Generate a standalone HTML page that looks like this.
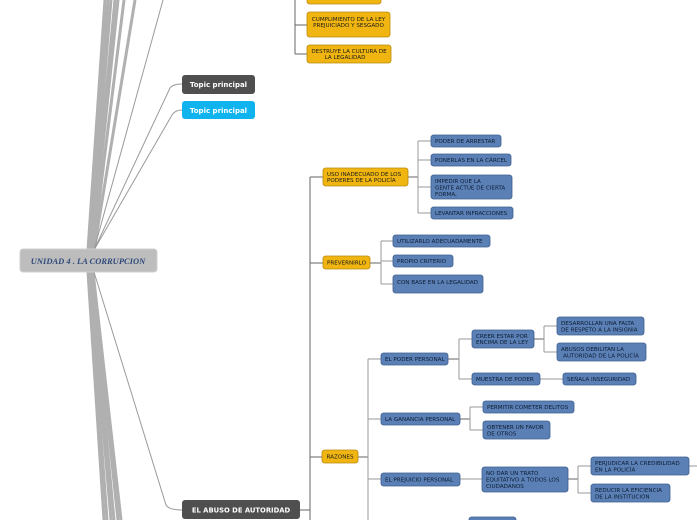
<!DOCTYPE html>
<html><head><meta charset="utf-8"><style>
html,body{margin:0;padding:0;background:#fff;width:697px;height:520px;overflow:hidden}
svg{display:block}
.y{fill:#f0b510;stroke:#b88a10;stroke-width:.8}
.b{fill:#5a80b6;stroke:#3e5f8f;stroke-width:.8}
.t{font-family:"DejaVu Sans","Liberation Sans",sans-serif;font-size:5.6px;fill:#1a1a1a}
.tb{font-family:"DejaVu Sans","Liberation Sans",sans-serif;font-size:5.6px;fill:#0e1c33}
.c{fill:none;stroke:#9a9a9a;stroke-width:1}
.cd{fill:none;stroke:#666;stroke-width:1}
.th{fill:none;stroke:#b0b0b0;stroke-width:3}
</style></head><body>
<svg width="697" height="520" viewBox="0 0 697 520" xmlns="http://www.w3.org/2000/svg">
<!-- root thick lines -->
<g class="th">
<path d="M88 250 L105 0"/><path d="M89 250 L108 0"/><path d="M90 250 L111 0"/><path d="M91 250 L115 0"/><path d="M92 250 L118 0"/><path d="M93 250 L124 0"/><path d="M94 250 L135 0"/>
<path d="M88 272 L104 520"/><path d="M89 272 L107 520"/><path d="M90 272 L111 520"/><path d="M91 272 L114 520"/><path d="M92 272 L118 520"/><path d="M93 272 L121 520"/>
</g>
<g class="c" stroke="#aaa">
<path d="M94 250 L163 0"/>
<path d="M94 250 L170 88 Q173 84 182 84"/>
<path d="M94 250 L172 115 Q175 110 182 110"/>
<path d="M94 272 L166 505 Q169 510 182 510"/>
</g>
<!-- top yellow branch -->
<path class="cd" d="M295 0 L295 54 M295 25 L307 25 M295 54 L307 54"/>
<!-- ABUSO vertical -->
<path class="cd" d="M300 510 L310 510 M310 177 L310 520 M310 177 L323 177 M310 263 L323 263 M310 457 L322 457"/>
<!-- uso children -->
<path class="cd" d="M408 177 L418 177"/>
<path class="c" d="M418 141 L418 213 M418 141 L431 141 M418 160 L431 160 M418 187 L431 187 M418 213 L431 213"/>
<path class="cd" d="M370 263 L381 263"/>
<path class="c" d="M381 241 L381 284 M381 241 L393 241 M381 261 L393 261 M381 284 L393 284"/>
<!-- razones -->
<path class="cd" d="M358 457 L368 457"/>
<path class="c" d="M368 359 L368 520 M368 359 L381 359 M368 419 L381 419 M368 479 L381 479"/>
<path class="cd" d="M448 359 L459 359"/>
<path class="c" d="M459 339 L459 379 M459 339 L472 339 M459 379 L472 379"/>
<path class="cd" d="M534 339 L544 339"/>
<path class="c" d="M544 326 L544 352 M544 326 L557 326 M544 352 L557 352 M540 379 L563 379"/>
<path class="cd" d="M460 419 L470 419"/>
<path class="c" d="M470 407 L470 430 M470 407 L483 407 M470 430 L483 430 M460 479 L482 479"/>
<path class="cd" d="M568 479 L578 479"/>
<path class="c" d="M578 466 L578 493 M578 466 L591 466 M578 493 L591 493 M689 466 L697 466"/>

<!-- root -->
<rect x="20" y="249" width="137" height="23" rx="3" fill="#bdbdbd" stroke="#d0d0d0"/>
<text x="88" y="264" text-anchor="middle" font-family="'Liberation Serif',serif" font-style="italic" font-weight="bold" font-size="8.5" fill="#2f4a7a">UNIDAD 4 . LA CORRUPCION</text>
<!-- main topics -->
<rect x="182" y="75" width="73" height="19" rx="3" fill="#4f4f4f"/>
<text x="218.5" y="87" text-anchor="middle" font-family="'DejaVu Sans',sans-serif" font-weight="bold" font-size="7" fill="#fff">Topic principal</text>
<rect x="182" y="101" width="73" height="18" rx="3" fill="#0fb4ee"/>
<text x="218.5" y="113" text-anchor="middle" font-family="'DejaVu Sans',sans-serif" font-weight="bold" font-size="7" fill="#fff">Topic principal</text>
<rect x="182" y="500" width="118" height="19" rx="3" fill="#4f4f4f"/>
<text x="241" y="512.5" text-anchor="middle" font-family="'DejaVu Sans',sans-serif" font-weight="bold" font-size="6.8" fill="#fff">EL ABUSO DE AUTORIDAD</text>

<!-- yellow -->
<rect class="y" x="307" y="-6" width="74" height="10" rx="2.5"/>
<rect class="y" x="307" y="12" width="83" height="25" rx="2.5"/>
<text class="t" x="348.5" y="21" text-anchor="middle">CUMPLIMIENTO DE LA LEY</text>
<text class="t" x="348.5" y="27" text-anchor="middle">PREJUICIADO Y SESGADO</text>
<rect class="y" x="307" y="45" width="84" height="18" rx="2.5"/>
<text class="t" x="349" y="53" text-anchor="middle">DESTRUYE LA CULTURA DE</text>
<text class="t" x="345" y="59" text-anchor="middle">LA LEGALIDAD</text>
<rect class="y" x="323" y="168" width="85" height="18" rx="2.5"/>
<text class="t" x="327" y="176">USO INADECUADO DE LOS</text>
<text class="t" x="327" y="182">PODERES DE LA POLICÍA</text>
<rect class="y" x="323" y="256" width="47" height="13" rx="2.5"/>
<text class="t" x="346.5" y="264.5" text-anchor="middle">PREVERNIRLO</text>
<rect class="y" x="322" y="450" width="36" height="13" rx="2.5"/>
<text class="t" x="340" y="458.5" text-anchor="middle">RAZONES</text>

<!-- blue -->
<g>
<rect class="b" x="431" y="135" width="70" height="12" rx="2.5"/><text class="tb" x="435" y="143">PODER DE ARRESTAR</text>
<rect class="b" x="431" y="154" width="80" height="12" rx="2.5"/><text class="tb" x="435" y="162">PONERLAS EN LA CÁRCEL</text>
<rect class="b" x="431" y="175" width="81" height="24" rx="2.5"/><text class="tb" x="435" y="183">IMPEDIR QUE LA</text><text class="tb" x="435" y="189.5">GENTE ACTÚE DE CIERTA</text><text class="tb" x="435" y="196">FORMA,</text>
<rect class="b" x="431" y="207" width="82" height="12" rx="2.5"/><text class="tb" x="435" y="215">LEVANTAR INFRACCIONES</text>
<rect class="b" x="393" y="235" width="97" height="12" rx="2.5"/><text class="tb" x="397" y="243">UTILIZARLO ADECUADAMENTE</text>
<rect class="b" x="393" y="255" width="60" height="12" rx="2.5"/><text class="tb" x="397" y="263">PROPIO CRITERIO</text>
<rect class="b" x="393" y="275" width="90" height="18" rx="2.5"/><text class="tb" x="397" y="284">CON BASE EN LA LEGALIDAD</text>
<rect class="b" x="381" y="353" width="67" height="12" rx="2.5"/><text class="tb" x="385" y="361">EL PODER PERSONAL</text>
<rect class="b" x="381" y="413" width="79" height="12" rx="2.5"/><text class="tb" x="385" y="421">LA GANANCIA PERSONAL</text>
<rect class="b" x="381" y="473" width="79" height="13" rx="2.5"/><text class="tb" x="385" y="481.5">EL PREJUICIO PERSONAL</text>
<rect class="b" x="472" y="330" width="62" height="18" rx="2.5"/><text class="tb" x="476" y="338">CREER ESTAR POR</text><text class="tb" x="476" y="344">ENCIMA DE LA LEY</text>
<rect class="b" x="472" y="373" width="68" height="12" rx="2.5"/><text class="tb" x="476" y="381">MUESTRA DE PODER</text>
<rect class="b" x="557" y="317" width="87" height="18" rx="2.5"/><text class="tb" x="561" y="325">DESARROLLAN UNA FALTA</text><text class="tb" x="561" y="331.5">DE RESPETO A LA INSIGNIA</text>
<rect class="b" x="557" y="343" width="89" height="18" rx="2.5"/><text class="tb" x="561" y="351">ABUSOS DEBILITAN LA</text><text class="tb" x="563" y="357.5">AUTORIDAD DE LA POLICÍA</text>
<rect class="b" x="563" y="373" width="73" height="12" rx="2.5"/><text class="tb" x="567" y="381">SEÑALA INSEGURIDAD</text>
<rect class="b" x="483" y="401" width="91" height="12" rx="2.5"/><text class="tb" x="487" y="409">PERMITIR COMETER DELITOS</text>
<rect class="b" x="483" y="421" width="67" height="18" rx="2.5"/><text class="tb" x="487" y="429">OBTENER UN FAVOR</text><text class="tb" x="487" y="435.5">DE OTROS</text>
<rect class="b" x="482" y="467" width="86" height="25" rx="2.5"/><text class="tb" x="486" y="475">NO DAR UN TRATO</text><text class="tb" x="486" y="481.5">EQUITATIVO A TODOS LOS</text><text class="tb" x="486" y="488">CIUDADANOS</text>
<rect class="b" x="591" y="457" width="98" height="18" rx="2.5"/><text class="tb" x="595" y="465">PERJUDICAR LA CREDIBILIDAD</text><text class="tb" x="595" y="471.5">EN LA POLICÍA</text>
<rect class="b" x="591" y="484" width="79" height="18" rx="2.5"/><text class="tb" x="595" y="492">REDUCIR LA EFICIENCIA</text><text class="tb" x="595" y="498.5">DE LA INSTITUCIÓN</text>
<rect class="b" x="469" y="517" width="47" height="10" rx="2.5"/>
</g>
</svg>
</body></html>
